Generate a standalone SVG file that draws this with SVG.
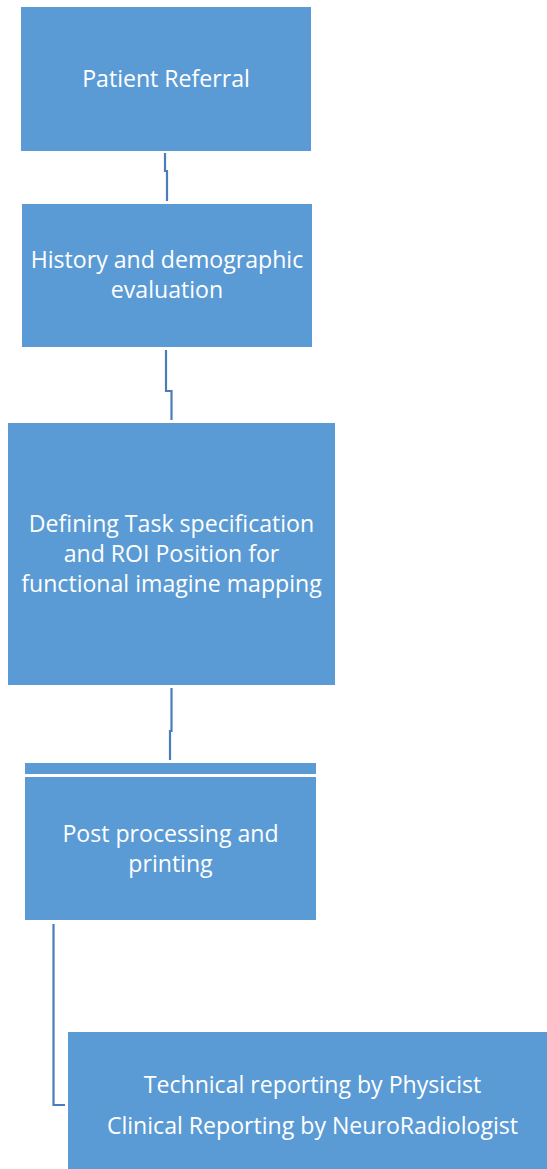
<svg xmlns="http://www.w3.org/2000/svg" width="547" height="1169" viewBox="0 0 547 1169">
<style>
.box{fill:#5B9BD5;}
.t{fill:#FFFFFF;font-family:"Open Sans","Liberation Sans",sans-serif;font-size:23.1px;text-anchor:middle;}
.c{fill:none;stroke:#4A7EBB;stroke-width:2.2;}
</style>
<rect width="547" height="1169" fill="#FFFFFF"/>
<g id="connectors">
<path class="c" d="M165,153 V171 H167 V201"/>
<path class="c" d="M166,350 V391 H171.5 V420"/>
<path class="c" d="M171.5,688 V731 H170 V760"/>
<path class="c" d="M53.5,924 V1105 H65"/>
</g>
<g id="n1">
<rect class="box" x="21" y="7" width="290" height="144"/>
<text class="t" x="166" y="87">Patient Referral</text>
</g>
<g id="n2">
<rect class="box" x="22" y="204" width="290" height="143"/>
<text class="t" x="167" y="268">History and demographic</text>
<text class="t" x="167" y="298">evaluation</text>
</g>
<g id="n3">
<rect class="box" x="8" y="423" width="327" height="262"/>
<text class="t" x="171.5" y="532">Defining Task specification</text>
<text class="t" x="171.5" y="562">and ROI Position for</text>
<text class="t" x="171.5" y="592">functional imagine mapping</text>
</g>
<g id="n4">
<rect class="box" x="25" y="763" width="291" height="11"/>
<rect class="box" x="25" y="777" width="291" height="143"/>
<text class="t" x="170.5" y="842">Post processing and</text>
<text class="t" x="170.5" y="872">printing</text>
</g>
<g id="n5">
<rect class="box" x="68" y="1032" width="479" height="137"/>
<text class="t" x="312.5" y="1093">Technical reporting by Physicist</text>
<text class="t" x="312.5" y="1134">Clinical Reporting by NeuroRadiologist</text>
</g>
</svg>
